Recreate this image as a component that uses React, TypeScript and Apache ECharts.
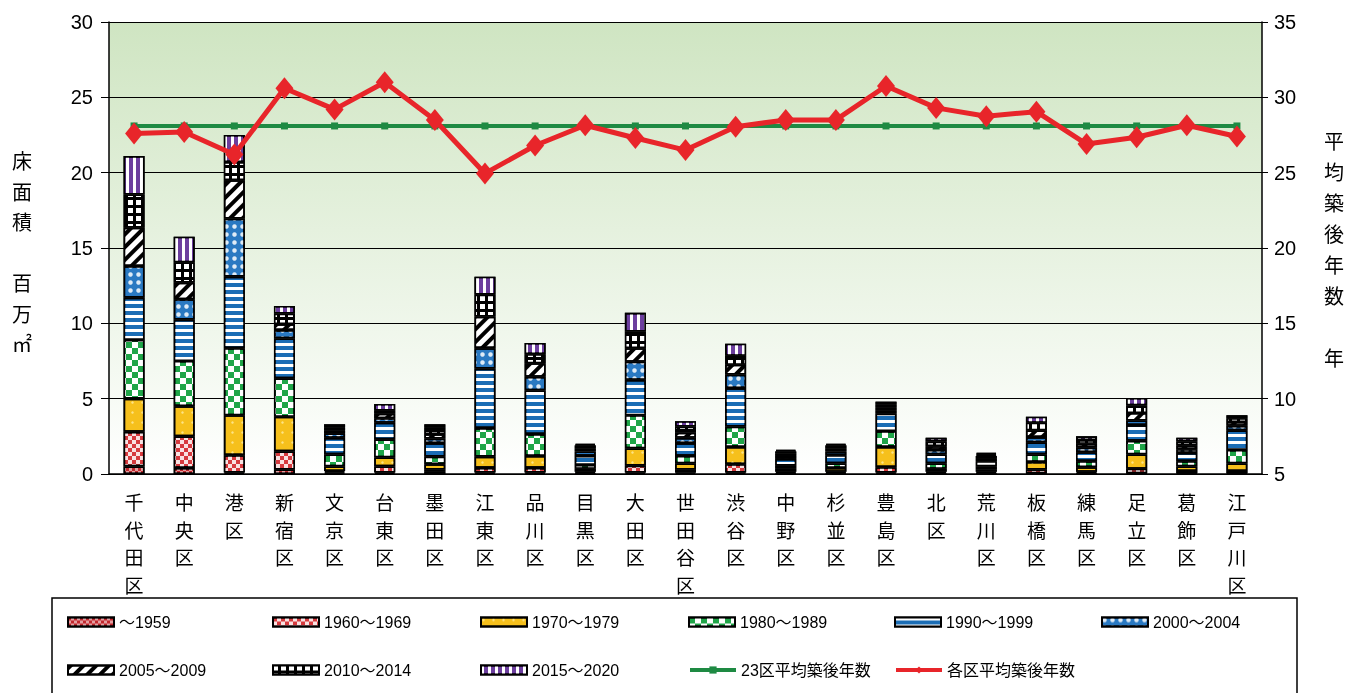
import React, { useEffect, useRef } from 'react';
import * as echarts from 'echarts';

const categories = ['千代田区', '中央区', '港区', '新宿区', '文京区', '台東区', '墨田区', '江東区', '品川区', '目黒区', '大田区', '世田谷区', '渋谷区', '中野区', '杉並区', '豊島区', '北区', '荒川区', '板橋区', '練馬区', '足立区', '葛飾区', '江戸川区'];

const periodNames = ['～1959', '1960～1969', '1970～1979', '1980～1989', '1990～1999', '2000～2004', '2005～2009', '2010～2014', '2015～2020'];

// floor area (million m²) by construction period
const p1959 = [0.5, 0.4, 0.1, 0.3, 0.1, 0.1, 0.15, 0.1, 0.1, 0.05, 0.1, 0.1, 0.1, 0.05, 0.05, 0.1, 0.05, 0.05, 0.05, 0.05, 0.05, 0.05, 0.05];
const p1960 = [2.3, 2.1, 1.15, 1.2, 0.1, 0.4, 0.15, 0.3, 0.3, 0.1, 0.45, 0.2, 0.55, 0.1, 0.1, 0.35, 0.1, 0.1, 0.25, 0.1, 0.3, 0.15, 0.15];
const p1970 = [2.2, 2.0, 2.65, 2.3, 0.3, 0.6, 0.35, 0.75, 0.8, 0.2, 1.15, 0.4, 1.15, 0.2, 0.25, 1.35, 0.2, 0.15, 0.5, 0.3, 0.95, 0.3, 0.5];
const p1980 = [3.9, 3.0, 4.45, 2.55, 0.8, 1.2, 0.5, 1.9, 1.45, 0.25, 2.2, 0.5, 1.35, 0.2, 0.3, 1.05, 0.35, 0.2, 0.5, 0.4, 0.9, 0.35, 0.9];
const p1990 = [2.8, 2.75, 4.75, 2.65, 1.1, 1.1, 0.9, 3.95, 2.9, 0.6, 2.35, 0.85, 2.55, 0.45, 0.55, 1.15, 0.6, 0.35, 0.8, 0.6, 1.05, 0.55, 1.3];
const p2000 = [2.1, 1.35, 3.85, 0.55, 0.3, 0.3, 0.3, 1.35, 0.9, 0.3, 1.2, 0.35, 0.9, 0.2, 0.25, 0.2, 0.3, 0.2, 0.35, 0.3, 0.3, 0.25, 0.3];
const p2005 = [2.55, 1.1, 2.55, 0.4, 0.2, 0.3, 0.3, 2.1, 0.9, 0.2, 0.9, 0.35, 0.65, 0.15, 0.2, 0.2, 0.25, 0.15, 0.45, 0.25, 0.5, 0.25, 0.25];
const p2010 = [2.2, 1.35, 1.2, 0.7, 0.2, 0.2, 0.45, 1.45, 0.6, 0.2, 1.1, 0.4, 0.6, 0.15, 0.2, 0.2, 0.3, 0.1, 0.5, 0.25, 0.5, 0.25, 0.25];
const p2015 = [2.55, 1.7, 1.8, 0.5, 0.2, 0.45, 0.2, 1.2, 0.75, 0.1, 1.25, 0.35, 0.8, 0.1, 0.1, 0.2, 0.25, 0.1, 0.4, 0.25, 0.5, 0.25, 0.2];

// average building age (years)
const avg23Age = [28.1, 28.1, 28.1, 28.1, 28.1, 28.1, 28.1, 28.1, 28.1, 28.1, 28.1, 28.1, 28.1, 28.1, 28.1, 28.1, 28.1, 28.1, 28.1, 28.1, 28.1, 28.1, 28.1];
const wardAge = [27.6, 27.7, 26.2, 30.6, 29.2, 31.0, 28.5, 24.95, 26.8, 28.15, 27.3, 26.5, 28.05, 28.5, 28.5, 30.75, 29.3, 28.75, 29.05, 26.9, 27.35, 28.15, 27.4];

const leftTicks = { min: 0, max: 30, interval: 5 };
const rightTicks = { min: 5, max: 35, interval: 5 };

const lineNames = ['23区平均築後年数', '各区平均築後年数'];

const checker = (s: number, c: string) => ({
  symbol: 'rect', symbolSize: 1,
  dashArrayX: [[s, s], [0, s, s, 0]], dashArrayY: [s, 0], color: c,
});

const barStyles: any[] = [
  { color: '#C1272D', decal: checker(3, 'rgba(255,255,255,0.55)') },
  { color: '#D63A3E', decal: checker(4, 'rgba(255,255,255,0.85)') },
  { color: '#F6C01C', decal: { symbol: 'circle', symbolSize: 0.5, dashArrayX: [5, 5], dashArrayY: [5, 5], color: 'rgba(255,236,160,0.8)' } },
  { color: '#1FA548', decal: checker(6, '#ffffff') },
  { color: '#1B6DB5', decal: { symbol: 'rect', symbolSize: 1, dashArrayX: [1, 0], dashArrayY: [3, 4], color: '#ffffff' } },
  { color: '#2A79C2', decal: { symbol: 'circle', symbolSize: 0.9, dashArrayX: [5, 3], dashArrayY: [5, 3], color: 'rgba(255,255,255,0.85)' } },
  { color: '#ffffff', decal: { symbol: 'rect', symbolSize: 1, dashArrayX: [1, 0], dashArrayY: [4, 5], rotation: -Math.PI / 4, color: '#000000' } },
  { color: '#000000', decal: { symbol: 'rect', symbolSize: 1, dashArrayX: [5, 3], dashArrayY: [5, 3], color: '#ffffff' } },
  { color: '#6C3E9E', decal: { symbol: 'rect', symbolSize: 1, dashArrayX: [3, 4], dashArrayY: [1, 0], color: '#ffffff' } },
];

const periodData = [p1959, p1960, p1970, p1980, p1990, p2000, p2005, p2010, p2015];

const legendCols = [67, 272, 480, 688, 894, 1101];
const legendRows = [614, 662];

export default function App() {
  const ref = useRef<HTMLDivElement>(null);
  useEffect(() => {
    const chart = echarts.init(ref.current!, null, { renderer: 'svg' });
    const font = "'Liberation Sans Narrow','Liberation Sans','Noto Sans CJK JP',sans-serif";
    const cjk = "'Noto Sans CJK JP',sans-serif";

    const allLegendNames = [...periodNames, ...lineNames];
    const legends = allLegendNames.map((name, i) => ({
      data: [name],
      left: legendCols[i % 6],
      top: legendRows[Math.floor(i / 6)],
      padding: 0,
      itemWidth: 46,
      itemHeight: 9,
      itemGap: 4,
      selectedMode: false,
      icon: i < 9 ? 'rect' : undefined,
      lineStyle: i < 9 ? undefined : { width: 4 },
      textStyle: { fontFamily: font, fontSize: 16, color: '#000', padding: [0, 0, 0, 0] },
    }));

    const barSeries = periodNames.map((name, i) => ({
      name,
      type: 'bar',
      stack: 'area',
      yAxisIndex: 0,
      barWidth: 21,
      data: periodData[i],
      itemStyle: { ...barStyles[i], borderColor: '#000', borderWidth: 1.6 },
    }));

    chart.setOption({
      animation: false,
      legend: legends,
      grid: {
        left: 109, right: 99, top: 22, bottom: 219, show: true, borderWidth: 0,
        backgroundColor: new echarts.graphic.LinearGradient(0, 0, 0, 1, [
          { offset: 0, color: '#CFE5C2' },
          { offset: 1, color: '#FFFFFF' },
        ]),
      },
      xAxis: {
        type: 'category',
        data: categories,
        axisLine: { lineStyle: { color: '#000', width: 1.5 } },
        axisTick: { inside: true, length: 6, lineStyle: { color: '#000' } },
        axisLabel: {
          interval: 0, margin: 14, color: '#000', fontFamily: cjk, fontSize: 19, lineHeight: 27.5,
          formatter: (v: string) => v.split('').join('\n'),
        },
      },
      yAxis: [
        {
          type: 'value', ...leftTicks, position: 'left',
          axisLine: { show: true, lineStyle: { color: '#000', width: 1.5 } },
          axisTick: { show: true, length: 8, lineStyle: { color: '#000' } },
          axisLabel: { color: '#000', fontFamily: font, fontSize: 20, margin: 16 },
          splitLine: { show: true, lineStyle: { color: '#000', width: 1.2 } },
        },
        {
          type: 'value', ...rightTicks, position: 'right',
          axisLine: { show: true, lineStyle: { color: '#000', width: 1.5 } },
          axisTick: { show: true, length: 6, lineStyle: { color: '#000' } },
          axisLabel: { color: '#000', fontFamily: font, fontSize: 20, margin: 12 },
          splitLine: { show: false },
        },
      ],
      series: [
        ...barSeries,
        {
          name: lineNames[0], type: 'line', yAxisIndex: 1, data: avg23Age, z: 10,
          color: '#1E8A43', lineStyle: { width: 4, color: '#1E8A43' },
          symbol: 'rect', symbolSize: 7, itemStyle: { color: '#1E8A43' },
        },
        {
          name: lineNames[1], type: 'line', yAxisIndex: 1, data: wardAge, z: 11,
          color: '#E8252A', lineStyle: { width: 5, color: '#E8252A' },
          symbol: 'diamond', symbolSize: [18, 22], itemStyle: { color: '#E8252A' },
        },
      ],
      graphic: [
        {
          type: 'rect', shape: { x: 52, y: 598, width: 1245, height: 120 },
          style: { fill: 'none', stroke: '#000', lineWidth: 1.5 }, silent: true,
        },
        {
          type: 'text', x: 22, y: 252,
          style: { text: '床\n面\n積\n\n百\n万\n㎡', font: `20px ${cjk}`, fill: '#000', textAlign: 'center', textVerticalAlign: 'middle', lineHeight: 30.5 },
        },
        {
          type: 'text', x: 1334, y: 249,
          style: { text: '平\n均\n築\n後\n年\n数\n\n年', font: `20px ${cjk}`, fill: '#000', textAlign: 'center', textVerticalAlign: 'middle', lineHeight: 31 },
        },
      ],
    });
    return () => chart.dispose();
  }, []);
  return <div ref={ref} style={{ position: 'fixed', left: 0, top: 0, width: 1361, height: 693 }} />;
}
